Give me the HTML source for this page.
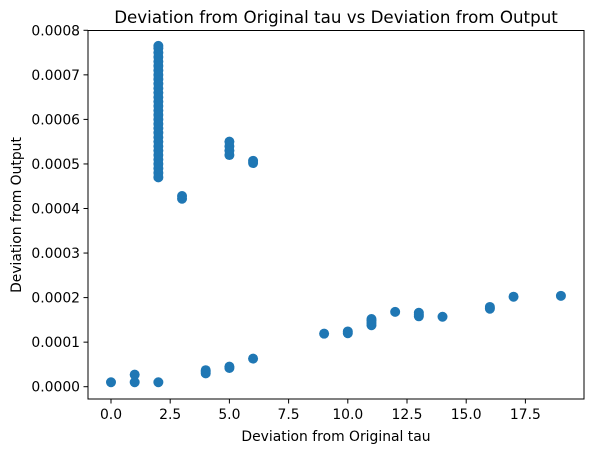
<!DOCTYPE html>
<html><head><meta charset="utf-8"><style>
body{margin:0;background:#fff;}
svg text{font-family:"DejaVu Sans","Liberation Sans",sans-serif;fill:#000;}
</style></head><body>
<svg id="chart" width="594" height="453" xmlns="http://www.w3.org/2000/svg">
<text x="336" y="23" font-size="16.7" text-anchor="middle">Deviation from Original tau vs Deviation from Output</text>
<g id="marks"></g>
<rect x="88" y="30.5" width="496" height="368.5" fill="none" stroke="#000" stroke-width="1"/>
<g id="xticks"></g>
<g id="yticks"></g>
<text x="336" y="441" font-size="13.9" text-anchor="middle">Deviation from Original tau</text>
<text transform="translate(21,215) rotate(-90)" font-size="13.9" text-anchor="middle">Deviation from Output</text>
</svg>
<script>
const xValues = [2,2,2,2,2,2,2,2,2,2,2,2,2,2,2,2,2,2,2,2,2,2,2,2,2,2,2,2,2,2,2,
 3,3,5,5,5,5,6,6,
 0,1,1,2,4,4,4,5,5,6,9,10,10,11,11,11,11,12,13,13,13,14,16,16,17,19];
const yValues = [0.00047,0.00048,0.00049,0.0005,0.00051,0.00052,0.00053,0.00054,0.00055,0.00056,0.00057,0.00058,0.00059,0.0006,0.00061,0.00062,0.00063,0.00064,0.00065,0.00066,0.00067,0.00068,0.00069,0.0007,0.00071,0.00072,0.00073,0.00074,0.00075,0.00076,0.000765,
 0.000422,0.000428,0.00052,0.00053,0.00054,0.00055,0.000502,0.000507,
 0.00001,0.00001,0.000027,0.00001,0.00003,0.000034,0.000037,0.000042,0.000045,0.000063,0.000119,0.00012,0.000124,0.000138,0.000143,0.000148,0.000152,0.000168,0.000158,0.000162,0.000166,0.000157,0.000175,0.000179,0.000202,0.000204];
const xTicks = [0,2.5,5,7.5,10,12.5,15,17.5];
const xTickLabels = ["0.0","2.5","5.0","7.5","10.0","12.5","15.0","17.5"];
const yTicks = [0,0.0001,0.0002,0.0003,0.0004,0.0005,0.0006,0.0007,0.0008];
const yTickLabels = ["0.0000","0.0001","0.0002","0.0003","0.0004","0.0005","0.0006","0.0007","0.0008"];

const NS="http://www.w3.org/2000/svg";
function xs(v){return 111 + v*23.68;}
function ys(v){return 386.7 - v*445500;}
const marks=document.getElementById('marks');
for(let i=0;i<xValues.length;i++){
  const c=document.createElementNS(NS,'circle');
  c.setAttribute('cx',xs(xValues[i]));c.setAttribute('cy',ys(yValues[i]));
  c.setAttribute('r',5);c.setAttribute('fill','#1f77b4');
  
  
  marks.appendChild(c);
}
const xg=document.getElementById('xticks');
xTicks.forEach((t,i)=>{
  const l=document.createElementNS(NS,'line');
  l.setAttribute('x1',xs(t));l.setAttribute('x2',xs(t));l.setAttribute('y1',399);l.setAttribute('y2',403.5);l.setAttribute('stroke','#000');
  
  
  xg.appendChild(l);
  const tx=document.createElementNS(NS,'text');
  tx.setAttribute('x',xs(t));tx.setAttribute('y',419);tx.setAttribute('font-size','13.9');tx.setAttribute('text-anchor','middle');
  tx.textContent=xTickLabels[i];
  
  
  xg.appendChild(tx);
});
const yg=document.getElementById('yticks');
yTicks.forEach((t,i)=>{
  const l=document.createElementNS(NS,'line');
  l.setAttribute('x1',83.5);l.setAttribute('x2',88);l.setAttribute('y1',ys(t));l.setAttribute('y2',ys(t));l.setAttribute('stroke','#000');
  
  
  yg.appendChild(l);
  const tx=document.createElementNS(NS,'text');
  tx.setAttribute('x',80);tx.setAttribute('y',ys(t)+5);tx.setAttribute('font-size','13.9');tx.setAttribute('text-anchor','end');
  tx.textContent=yTickLabels[i];
  
  
  yg.appendChild(tx);
});
</script>
</body></html>
